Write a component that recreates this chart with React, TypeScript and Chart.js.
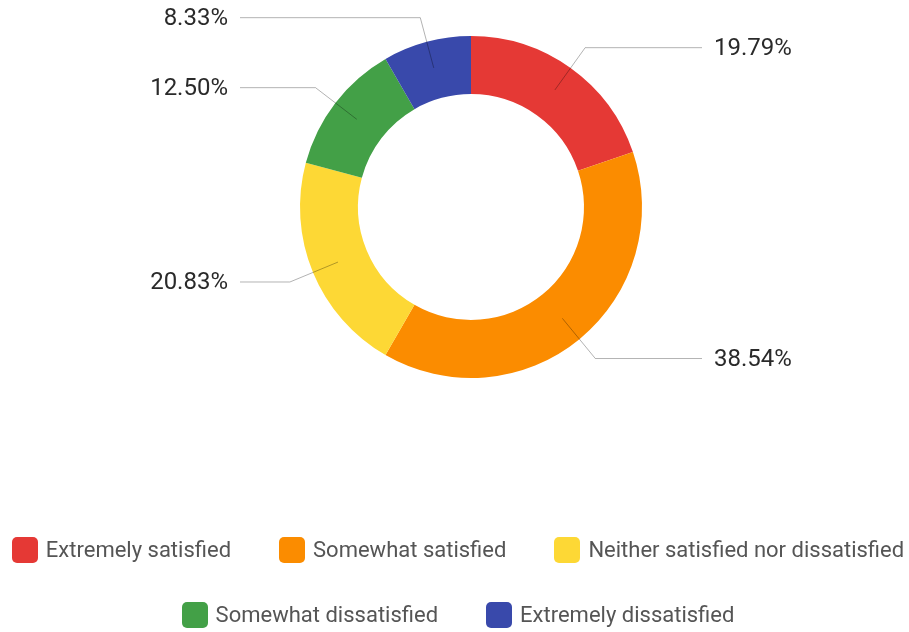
import React, { useEffect, useRef } from 'react';
import { Chart, registerables } from 'chart.js';

Chart.register(...registerables);

const categories = [
  'Extremely satisfied',
  'Somewhat satisfied',
  'Neither satisfied nor dissatisfied',
  'Somewhat dissatisfied',
  'Extremely dissatisfied',
];
const percentages = [19.79, 38.54, 20.83, 12.5, 8.33];
const colors = ['#E53935', '#FB8C00', '#FDD835', '#43A047', '#3949AB'];
const legendRows = [[0, 1, 2], [3, 4]];

const FONT = 'Roboto, "Noto Sans", sans-serif';

const leaderPlugin = {
  id: 'leaderLabels',
  afterDatasetsDraw(chart: any) {
    const ctx = chart.ctx as CanvasRenderingContext2D;
    const meta = chart.getDatasetMeta(0);
    const values = chart.data.datasets[0].data as number[];
    ctx.save();
    meta.data.forEach((arc: any, i: number) => {
      const p = arc.getProps(['x', 'y', 'startAngle', 'endAngle', 'outerRadius', 'innerRadius'], true);
      const mid = (p.startAngle + p.endAngle) / 2;
      const rIn = (p.outerRadius + p.innerRadius) / 2 + 2;
      const rEl = p.outerRadius + 25;
      const x1 = p.x + Math.cos(mid) * rIn;
      const y1 = p.y + Math.sin(mid) * rIn;
      const x2 = p.x + Math.cos(mid) * rEl;
      const y2 = p.y + Math.sin(mid) * rEl;
      const right = Math.cos(mid) >= 0;
      const reach = p.outerRadius + 60;
      const x3 = right ? p.x + reach : p.x - reach;
      ctx.beginPath();
      ctx.moveTo(x1, y1);
      ctx.lineTo(x2, y2);
      ctx.lineTo(x3, y2);
      ctx.strokeStyle = 'rgba(0,0,0,0.3)';
      ctx.lineWidth = 1;
      ctx.stroke();
      ctx.fillStyle = '#2a2a2a';
      ctx.font = `24px ${FONT}`;
      ctx.textBaseline = 'middle';
      ctx.textAlign = right ? 'left' : 'right';
      ctx.fillText(values[i].toFixed(2) + '%', right ? x3 + 12 : x3 - 12, y2 + 1);
    });
    ctx.restore();
  },
};

export default function App() {
  const canvasRef = useRef<HTMLCanvasElement | null>(null);

  useEffect(() => {
    document.body.style.margin = '0';
    const canvas = canvasRef.current;
    if (!canvas) return;
    const chart = new Chart(canvas, {
      type: 'doughnut',
      data: {
        labels: categories,
        datasets: [
          {
            data: percentages,
            backgroundColor: colors,
            borderWidth: 0,
            hoverOffset: 0,
          },
        ],
      },
      options: {
        responsive: false,
        animation: false,
        cutout: 113,
        layout: { padding: { left: 33, right: 0, top: 36, bottom: 254 } },
        plugins: {
          legend: { display: false },
          tooltip: { enabled: false },
        },
      },
      plugins: [leaderPlugin],
    });
    return () => chart.destroy();
  }, []);

  return (
    <div style={{ position: 'relative', width: 909, height: 632, background: '#fff', overflow: 'hidden' }}>
      <canvas ref={canvasRef} width={909} height={632} style={{ position: 'absolute', left: 0, top: 0 }} />
      {legendRows.map((row, r) => (
        <div
          key={r}
          style={{
            position: 'absolute',
            left: 7,
            width: 902,
            top: r === 0 ? 537 : 602,
            height: 26,
            display: 'flex',
            justifyContent: 'center',
            columnGap: 48,
          }}
        >
          {row.map((idx) => (
            <div key={idx} style={{ display: 'flex', alignItems: 'center', height: 26 }}>
              <span
                style={{
                  display: 'inline-block',
                  width: 26,
                  height: 26,
                  borderRadius: 5,
                  background: colors[idx],
                  marginRight: 8,
                }}
              />
              <span
                style={{
                  fontFamily: FONT,
                  fontSize: 22,
                  lineHeight: '26px',
                  color: '#555555',
                  whiteSpace: 'nowrap',
                }}
              >
                {categories[idx]}
              </span>
            </div>
          ))}
        </div>
      ))}
    </div>
  );
}
